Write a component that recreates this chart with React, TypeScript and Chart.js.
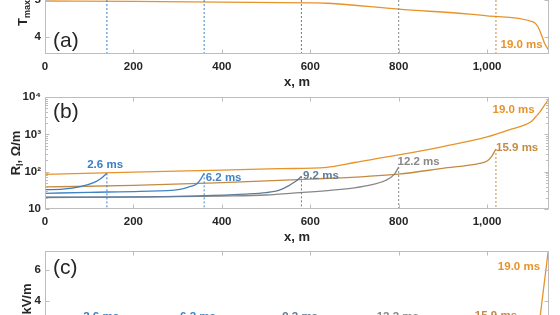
import React, { useEffect, useRef } from 'react';
import { Chart, registerables } from 'chart.js';

Chart.register(...registerables);

const FONT = '"Liberation Sans", Arial, Helvetica, sans-serif';
const TEXT_DARK = '#262626';
const AXIS_GREY = '#bdbdbd';

// ---------- shared ----------
const X_TICKS = [0, 200, 400, 600, 800, 1000];
const X_MAX = 1140;
const TIME_LABELS = ['2.6 ms', '6.2 ms', '9.2 ms', '12.2 ms', '15.9 ms', '19.0 ms'];
const SERIES_COLORS = ['#3a7ec3', '#4084c4', '#5f7c99', '#888888', '#c48a40', '#e8922a'];
const TIP_X = [140, 360, 580, 800, 1020];

// ---------- panel (a): T_max along x at 19.0 ms ----------
const A_Y_MIN = 3.55;
const A_Y_MAX = 6.55;
const A_Y_TICKS = [4, 5, 6];
const T_X = [0, 200, 400, 600, 640, 800, 960, 1000, 1104, 1115, 1123, 1130, 1139];
const T_190 = [4.97, 4.96, 4.94, 4.92, 4.91, 4.75, 4.62, 4.57, 4.41, 4.28, 4.06, 3.84, 3.66];
const A_LABEL_X = [1078];
const A_LABEL_Y = [3.79];

// ---------- panel (b): R_l (log) ----------
const B_Y_MIN = 10;
const B_Y_MAX = 10000;
const B_Y_TICKS = [10, 100, 1000, 10000];
const B_Y_TICK_TEXT = ['10', '10²', '10³', '10⁴'];

const R_X_26 = [0, 40, 80, 110, 125, 135, 140];
const R_26 = [33, 34, 39.5, 50.6, 63.6, 80, 90];
const R_X_62 = [0, 100, 215, 305, 325, 343, 352, 360];
const R_62 = [26.3, 28, 29.8, 33.7, 38.9, 46.8, 62.5, 90];
const R_X_92 = [0, 200, 350, 450, 500, 530, 554, 568, 580];
const R_92 = [20.8, 21.2, 22.6, 25, 27.4, 32, 44, 56, 75];
const R_X_122 = [0, 200, 400, 500, 576, 650, 700, 740, 770, 790, 800];
const R_122 = [20.3, 20.8, 22.3, 23.7, 27.4, 32, 37, 45, 58, 85, 133];
const R_X_159 = [0, 200, 400, 600, 800, 900, 983, 1000, 1010, 1020];
const R_159 = [39, 42.8, 51, 63, 86, 123, 167, 193, 252, 405];
const R_X_190 = [0, 200, 400, 530, 637, 700, 800, 900, 1000, 1050, 1100, 1110, 1120, 1130, 1140];
const R_190 = [85, 97, 110, 120, 131, 176, 280, 470, 850, 1320, 2200, 2950, 4060, 6100, 8700];
const B_LABEL_X = [136, 404, 624, 845, 1068, 1060];
const B_LABEL_Y = [151, 67.6, 78, 182, 430, 4460];

// ---------- panel (c): E ----------
const C_Y_MIN = 0;
const C_Y_MAX = 7.2;
const C_Y_TICKS = [0, 2, 4, 6];
const E_X_26 = [0, 100, 130, 140];
const E_26 = [1.0, 1.2, 1.7, 2.5];
const E_X_62 = [0, 300, 350, 360];
const E_62 = [0.9, 1.1, 1.7, 2.5];
const E_X_92 = [0, 500, 570, 580];
const E_92 = [0.9, 1.1, 1.7, 2.5];
const E_X_122 = [0, 700, 790, 800];
const E_122 = [0.9, 1.1, 1.7, 2.5];
const E_X_159 = [0, 900, 1010, 1020];
const E_159 = [0.9, 1.1, 1.7, 2.5];
const E_X_190 = [0, 600, 1000, 1100, 1120, 1140];
const E_190 = [1.0, 1.1, 1.5, 2.2, 3.0, 7.6];
const C_LABEL_X = [127, 346, 577, 798, 1020, 1072];
const C_LABEL_Y = [2.97, 2.97, 2.97, 3.0, 3.06, 6.19];

// ---------- helpers ----------
function mkLine(xs: number[], ys: number[], color: string, smooth = true) {
  return {
    data: xs.map((x, i) => ({ x, y: ys[i] })),
    borderColor: color,
    borderWidth: 1.3,
    pointRadius: 0,
    fill: false,
    tension: 0,
    cubicInterpolationMode: smooth ? 'monotone' : 'default',
  };
}
function mkDotted(x: number, y0: number, y1: number, color: string) {
  return {
    data: [{ x, y: y0 }, { x, y: y1 }],
    borderColor: color,
    borderWidth: 1,
    borderDash: [2, 2],
    pointRadius: 0,
    fill: false,
    tension: 0,
  };
}

type TitlePart = { t: string; sub?: boolean };
type Deco = {
  labels: { text: string; x: number; y: number; color: string }[];
  letter: string;
  letterDy: number;
  title: TitlePart[];
  titleX: number;
  titleDy?: number;
  minor?: number[];
};

function makeDeco(cfg: Deco) {
  return {
    id: 'deco',
    afterDraw(chart: any) {
      const { ctx, chartArea: ca, scales } = chart;
      const xs = scales.x;
      const ys = scales.y;
      ctx.save();
      // box with inward ticks
      const L = Math.round(ca.left) + 0.5;
      const R = Math.round(ca.right) - 0.5;
      const T = Math.round(ca.top) + 0.5;
      const B = Math.round(ca.bottom) - 0.5;
      ctx.strokeStyle = AXIS_GREY;
      ctx.lineWidth = 1;
      ctx.setLineDash([]);
      ctx.strokeRect(L, T, R - L, B - T);
      ctx.beginPath();
      xs.ticks.forEach((t: any) => {
        const p = Math.round(xs.getPixelForValue(t.value)) + 0.5;
        ctx.moveTo(p, B); ctx.lineTo(p, B - 4);
        ctx.moveTo(p, T); ctx.lineTo(p, T + 4);
      });
      ys.ticks.forEach((t: any) => {
        const p = Math.round(ys.getPixelForValue(t.value)) + 0.5;
        ctx.moveTo(L, p); ctx.lineTo(L + 4, p);
        ctx.moveTo(R, p); ctx.lineTo(R - 4, p);
      });
      (cfg.minor || []).forEach((v) => {
        const p = Math.round(ys.getPixelForValue(v)) + 0.5;
        ctx.moveTo(L, p); ctx.lineTo(L + 2.5, p);
        ctx.moveTo(R, p); ctx.lineTo(R - 2.5, p);
      });
      ctx.stroke();

      // series labels
      ctx.font = `bold 11.5px ${FONT}`;
      ctx.textAlign = 'center';
      ctx.textBaseline = 'middle';
      cfg.labels.forEach((l) => {
        ctx.fillStyle = l.color;
        ctx.fillText(l.text, xs.getPixelForValue(l.x), ys.getPixelForValue(l.y));
      });

      // panel letter
      ctx.font = `21px ${FONT}`;
      ctx.fillStyle = TEXT_DARK;
      ctx.textAlign = 'left';
      ctx.fillText(cfg.letter, ca.left + 8, ca.top + cfg.letterDy);

      // y title (rotated, with subscript)
      const fontMain = `bold 13px ${FONT}`;
      const fontSub = `bold 9px ${FONT}`;
      let total = 0;
      const widths = cfg.title.map((p) => {
        ctx.font = p.sub ? fontSub : fontMain;
        const w = ctx.measureText(p.t).width;
        total += w;
        return w;
      });
      ctx.translate(cfg.titleX, (ca.top + ca.bottom) / 2 + (cfg.titleDy || 0));
      ctx.rotate(-Math.PI / 2);
      ctx.textBaseline = 'alphabetic';
      ctx.textAlign = 'left';
      let x = -total / 2;
      cfg.title.forEach((p, i) => {
        ctx.font = p.sub ? fontSub : fontMain;
        ctx.fillText(p.t, x, p.sub ? 3 : 0);
        x += widths[i];
      });
      ctx.restore();
    },
  };
}

function baseOptions(yScale: any) {
  return {
    responsive: false,
    animation: false,
    events: [],
    layout: { padding: { left: 0, right: 11, top: 12, bottom: 0 } },
    plugins: { legend: { display: false }, tooltip: { enabled: false }, title: { display: false } },
    scales: {
      x: {
        type: 'linear',
        min: 0,
        max: X_MAX,
        afterBuildTicks: (s: any) => { s.ticks = X_TICKS.map((v) => ({ value: v })); },
        afterFit: (s: any) => { s.height = 36; },
        grid: { display: false, drawTicks: false },
        border: { display: false },
        ticks: {
          color: TEXT_DARK,
          font: { family: FONT, size: 11.5, weight: 'bold' },
          padding: 5.5,
          maxRotation: 0,
          autoSkip: false,
        },
        title: {
          display: true,
          text: 'x, m',
          color: TEXT_DARK,
          font: { family: FONT, size: 13, weight: 'bold' },
          padding: 0,
        },
      },
      y: {
        ...yScale,
        afterFit: (s: any) => { s.width = 45; },
        grid: { display: false, drawTicks: false },
        border: { display: false },
        title: { display: false },
      },
    },
  };
}

const tickFont = { family: FONT, size: 11.5, weight: 'bold' };

export default function App() {
  const refA = useRef<HTMLCanvasElement>(null);
  const refB = useRef<HTMLCanvasElement>(null);
  const refC = useRef<HTMLCanvasElement>(null);

  useEffect(() => {
    const charts: Chart[] = [];

    // ----- (a) -----
    const aData = [
      ...TIP_X.map((x, i) => mkDotted(x, A_Y_MIN, A_Y_MAX, SERIES_COLORS[i])),
      mkLine(T_X, T_190, SERIES_COLORS[5]),
    ];
    charts.push(new Chart(refA.current!, {
      type: 'line',
      data: { datasets: aData as any },
      options: baseOptions({
        type: 'linear',
        min: A_Y_MIN,
        max: A_Y_MAX,
        afterBuildTicks: (s: any) => { s.ticks = A_Y_TICKS.map((v) => ({ value: v })); },
        ticks: { color: TEXT_DARK, font: tickFont, padding: 4 },
      }) as any,
      plugins: [makeDeco({
        labels: A_LABEL_X.map((x, i) => ({ text: TIME_LABELS[5], x, y: A_LABEL_Y[i], color: SERIES_COLORS[5] })),
        letter: '(a)',
        letterDy: 99,
        title: [{ t: 'T' }, { t: 'max', sub: true }, { t: ', kK' }],
        titleX: 26.5,
        titleDy: 3,
      })],
    }));

    // ----- (b) -----
    const rX = [R_X_26, R_X_62, R_X_92, R_X_122, R_X_159, R_X_190];
    const rY = [R_26, R_62, R_92, R_122, R_159, R_190];
    const bData = [
      ...TIP_X.map((x, i) => mkDotted(x, rY[i][rY[i].length - 1], B_Y_MIN, SERIES_COLORS[i])),
      ...rX.map((xs, i) => mkLine(xs, rY[i], SERIES_COLORS[i])),
    ];
    const minor: number[] = [];
    B_Y_TICKS.slice(0, -1).forEach((d) => { for (let k = 2; k <= 9; k++) minor.push(k * d); });
    charts.push(new Chart(refB.current!, {
      type: 'line',
      data: { datasets: bData as any },
      options: baseOptions({
        type: 'logarithmic',
        min: B_Y_MIN,
        max: B_Y_MAX,
        afterBuildTicks: (s: any) => { s.ticks = B_Y_TICKS.map((v) => ({ value: v })); },
        ticks: {
          color: TEXT_DARK,
          font: tickFont,
          padding: 4,
          callback: (v: any) => {
            const i = B_Y_TICKS.indexOf(Number(v));
            return i >= 0 ? B_Y_TICK_TEXT[i] : '';
          },
        },
      }) as any,
      plugins: [makeDeco({
        labels: B_LABEL_X.map((x, i) => ({ text: TIME_LABELS[i], x, y: B_LABEL_Y[i], color: SERIES_COLORS[i] })),
        letter: '(b)',
        letterDy: 15,
        title: [{ t: 'R' }, { t: 'l', sub: true }, { t: ', Ω/m' }],
        titleX: 19.5,
        minor,
      })],
    }));

    // ----- (c) -----
    const eX = [E_X_26, E_X_62, E_X_92, E_X_122, E_X_159, E_X_190];
    const eY = [E_26, E_62, E_92, E_122, E_159, E_190];
    const cData = [
      ...TIP_X.map((x, i) => mkDotted(x, eY[i][eY[i].length - 1], C_Y_MIN, SERIES_COLORS[i])),
      ...eX.map((xs, i) => mkLine(xs, eY[i], SERIES_COLORS[i], false)),
    ];
    charts.push(new Chart(refC.current!, {
      type: 'line',
      data: { datasets: cData as any },
      options: baseOptions({
        type: 'linear',
        min: C_Y_MIN,
        max: C_Y_MAX,
        afterBuildTicks: (s: any) => { s.ticks = C_Y_TICKS.map((v) => ({ value: v })); },
        ticks: { color: TEXT_DARK, font: tickFont, padding: 4 },
      }) as any,
      plugins: [makeDeco({
        labels: C_LABEL_X.map((x, i) => ({ text: TIME_LABELS[i], x, y: C_LABEL_Y[i], color: SERIES_COLORS[i] })),
        letter: '(c)',
        letterDy: 17,
        title: [{ t: 'E, kV/m' }],
        titleX: 30.5,
      })],
    }));

    return () => { charts.forEach((c) => c.destroy()); };
  }, []);

  const cv = (top: number): React.CSSProperties => ({ position: 'absolute', left: 0, top, display: 'block' });

  return (
    <div style={{ position: 'fixed', left: 0, top: 0, width: 560, height: 315, overflow: 'hidden', background: '#ffffff' }}>
      <canvas ref={refA} width={560} height={160} style={cv(-70)} />
      <canvas ref={refB} width={560} height={160} style={cv(85)} />
      <canvas ref={refC} width={560} height={160} style={cv(239)} />
    </div>
  );
}
